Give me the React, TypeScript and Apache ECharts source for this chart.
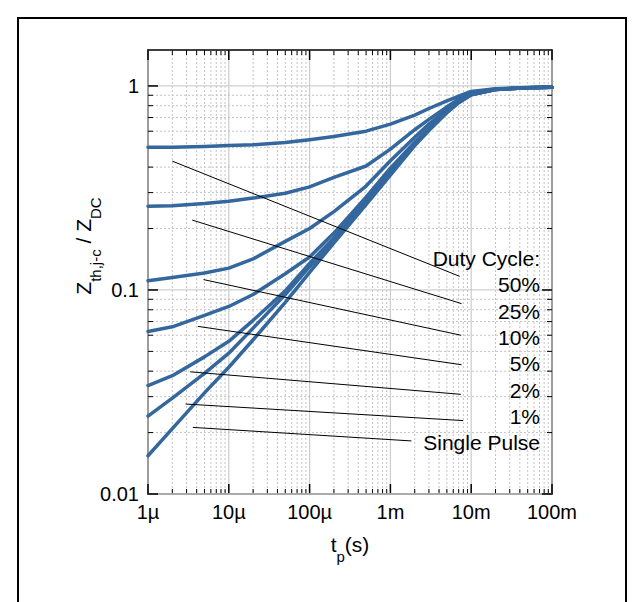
import React, { useEffect, useRef } from 'react';
import * as echarts from 'echarts';

// ---- data ----
const tValues = [1e-6, 2e-6, 5e-6, 1e-5, 2e-5, 5e-5, 1e-4, 2e-4, 5e-4, 1e-3, 2e-3, 3e-3, 5e-3, 7e-3, 1e-2, 2e-2, 5e-2, 1e-1];
const seriesNames = ['50%', '25%', '10%', '5%', '2%', '1%', 'Single Pulse'];
const z50 = [0.5, 0.5, 0.505, 0.51, 0.515, 0.528, 0.545, 0.565, 0.6, 0.65, 0.72, 0.775, 0.845, 0.89, 0.94, 0.97, 0.982, 0.984];
const z25 = [0.257, 0.259, 0.265, 0.272, 0.282, 0.298, 0.32, 0.356, 0.405, 0.49, 0.61, 0.685, 0.79, 0.86, 0.925, 0.965, 0.981, 0.984];
const z10 = [0.111, 0.115, 0.121, 0.128, 0.142, 0.173, 0.2, 0.242, 0.323, 0.43, 0.56, 0.65, 0.765, 0.845, 0.915, 0.962, 0.98, 0.984];
const z05 = [0.0626, 0.066, 0.075, 0.083, 0.095, 0.12, 0.145, 0.19, 0.285, 0.395, 0.53, 0.62, 0.75, 0.835, 0.91, 0.96, 0.98, 0.984];
const z02 = [0.034, 0.038, 0.047, 0.056, 0.071, 0.099, 0.135, 0.18, 0.275, 0.38, 0.52, 0.615, 0.745, 0.832, 0.908, 0.96, 0.98, 0.984];
const z01 = [0.0241, 0.0295, 0.039, 0.049, 0.065, 0.095, 0.13, 0.175, 0.268, 0.372, 0.515, 0.61, 0.742, 0.83, 0.906, 0.96, 0.98, 0.984];
const zSingle = [0.0154, 0.0209, 0.0313, 0.0418, 0.057, 0.087, 0.122, 0.17, 0.262, 0.365, 0.51, 0.605, 0.74, 0.828, 0.905, 0.96, 0.98, 0.984];
const seriesValues = [z50, z25, z10, z05, z02, z01, zSingle];

// annotation leader lines: [t, Z] start and end
const leaderStart = [[2.0e-6, 0.428], [3.53e-6, 0.22], [4.87e-6, 0.1124], [4.14e-6, 0.0663], [3.33e-6, 0.0397], [2.92e-6, 0.0276], [3.59e-6, 0.0212]];
const leaderEnd = [[7.2e-3, 0.1166], [7.6e-3, 0.0857], [7.45e-3, 0.06], [7.6e-3, 0.043], [7.45e-3, 0.0308], [7.96e-3, 0.0229], [1.82e-3, 0.0182]];
const annotationTitle = 'Duty Cycle:';

const xTickValues = [1e-6, 1e-5, 1e-4, 1e-3, 1e-2, 1e-1];
const xTickLabels = ['1µ', '10µ', '100µ', '1m', '10m', '100m'];
const yTickValues = [0.01, 0.1, 1];
const yTickLabels = ['0.01', '0.1', '1'];
const xMin = 1e-6, xMax = 0.1, yMin = 0.01, yMax = 1.5;

const FONT = 'Liberation Sans, Arial, Helvetica, sans-serif';
const BLUE = '#34679e';

function buildMinor(majors: number[], max: number) {
  const out: number[] = [];
  majors.forEach((d) => {
    for (let k = 2; k <= 9; k++) {
      const v = k * d;
      if (v < max) out.push(v);
    }
  });
  return out;
}

function decadeIndex(v: number, base: number) {
  const l = Math.log10(v);
  const r = Math.round(l);
  if (Math.abs(l - r) > 1e-6) return -1;
  return r - base;
}

const nameRich = {
  a: { fontSize: 21, lineHeight: 20, verticalAlign: 'top', fontFamily: FONT, color: '#000' },
  b: { fontSize: 15, lineHeight: 30, verticalAlign: 'bottom', fontFamily: FONT, color: '#000' },
};

export default function App() {
  const ref = useRef<HTMLDivElement>(null);
  useEffect(() => {
    if (!ref.current) return;
    const chart = echarts.init(ref.current, null, { renderer: 'svg' });

    const xMinor = buildMinor(xTickValues, xMax);
    const yMinor = buildMinor(yTickValues, yMax);
    const xGridData = [
      ...xTickValues.map((v) => [v, 0.5, 1]),
      ...xMinor.map((v) => [v, 0.5, 0]),
    ];
    const yGridData = [
      ...yTickValues.map((v) => [1e-3, v, 1]),
      ...yMinor.map((v) => [1e-3, v, 0]),
    ];

    const xGridRender = (params: any, api: any) => {
      const cs = params.coordSys;
      const major = api.value(2) === 1;
      const x = api.coord([api.value(0), api.value(1)])[0];
      const len = major ? 10 : 5;
      const top = cs.y, bot = cs.y + cs.height;
      return {
        type: 'group',
        children: [
          { type: 'line', shape: { x1: x, y1: top, x2: x, y2: bot }, style: { stroke: major ? '#cfcfcf' : '#c4c4c4', lineWidth: major ? 1.3 : 1, lineDash: major ? null : [2, 2] }, silent: true },
          { type: 'line', shape: { x1: x, y1: bot, x2: x, y2: bot - len }, style: { stroke: '#000', lineWidth: major ? 1.5 : 1 }, silent: true },
          { type: 'line', shape: { x1: x, y1: top, x2: x, y2: top + len }, style: { stroke: '#000', lineWidth: major ? 1.5 : 1 }, silent: true },
        ],
      };
    };
    const yGridRender = (params: any, api: any) => {
      const cs = params.coordSys;
      const major = api.value(2) === 1;
      const y = api.coord([api.value(0), api.value(1)])[1];
      const len = major ? 10 : 5;
      const left = cs.x, right = cs.x + cs.width;
      return {
        type: 'group',
        children: [
          { type: 'line', shape: { x1: left, y1: y, x2: right, y2: y }, style: { stroke: major ? '#cfcfcf' : '#c4c4c4', lineWidth: major ? 1.3 : 1, lineDash: major ? null : [2, 2] }, silent: true },
          { type: 'line', shape: { x1: left, y1: y, x2: left + len, y2: y }, style: { stroke: '#000', lineWidth: major ? 1.5 : 1 }, silent: true },
          { type: 'line', shape: { x1: right, y1: y, x2: right - len, y2: y }, style: { stroke: '#000', lineWidth: major ? 1.5 : 1 }, silent: true },
        ],
      };
    };

    const labelYs = [258, 284, 311, 337, 363, 390, 416, 442];
    const labelTexts = [annotationTitle, ...seriesNames];

    const option: any = {
      animation: false,
      backgroundColor: '#ffffff',
      grid: { left: 148, top: 50, right: 90, bottom: 108, containLabel: false },
      xAxis: [
        {
          type: 'log', logBase: 10, min: xMin, max: xMax, position: 'bottom',
          axisLine: { show: true, lineStyle: { color: '#000', width: 1.5 } },
          axisTick: { show: false }, splitLine: { show: false },
          axisLabel: {
            fontSize: 20, color: '#000', fontFamily: FONT, margin: 8,
            formatter: (v: number) => { const i = decadeIndex(v, -6); return i >= 0 && i < xTickLabels.length ? xTickLabels[i] : ''; },
          },
          name: '{a|t}{b|p}{a|(s)}',
          nameLocation: 'middle', nameGap: 40, nameMoveOverlap: false,
          nameTextStyle: { color: '#000', fontFamily: FONT, rich: nameRich },
        },
        {
          type: 'log', logBase: 10, min: xMin, max: xMax, position: 'top',
          axisLine: { show: true, lineStyle: { color: '#000', width: 1.5 } },
          axisTick: { show: false }, splitLine: { show: false }, axisLabel: { show: false },
        },
      ],
      yAxis: [
        {
          type: 'log', logBase: 10, min: yMin, max: yMax, position: 'left',
          axisLine: { show: true, lineStyle: { color: '#000', width: 1.5 } },
          axisTick: { show: false }, splitLine: { show: false },
          axisLabel: {
            fontSize: 20, color: '#000', fontFamily: FONT, margin: 9,
            formatter: (v: number) => { const i = decadeIndex(v, -2); return i >= 0 && i < yTickLabels.length ? yTickLabels[i] : ''; },
          },
          name: '{a|Z}{b|th,j-c}{a| / Z}{b|DC}',
          nameLocation: 'middle', nameRotate: 90, nameGap: 45, nameMoveOverlap: false,
          nameTextStyle: { color: '#000', fontFamily: FONT, rich: nameRich, padding: [0, 0, 0, 52] },
        },
        {
          type: 'log', logBase: 10, min: yMin, max: yMax, position: 'right',
          axisLine: { show: true, lineStyle: { color: '#000', width: 1.5 } },
          axisTick: { show: false }, splitLine: { show: false }, axisLabel: { show: false },
        },
      ],
      series: [
        { type: 'custom', xAxisIndex: 0, yAxisIndex: 0, renderItem: xGridRender, data: xGridData, encode: { x: 0, y: 1 }, z: 1, silent: true, clip: false },
        { type: 'custom', xAxisIndex: 0, yAxisIndex: 0, renderItem: yGridRender, data: yGridData, encode: { x: 0, y: 1 }, z: 1, silent: true, clip: false },
        ...seriesNames.map((name, i) => ({
          type: 'line', name, xAxisIndex: 0, yAxisIndex: 0,
          data: tValues.map((t, j) => [t, seriesValues[i][j]]),
          showSymbol: false, symbol: 'none', smooth: false,
          lineStyle: { color: BLUE, width: 3.5, join: 'round', cap: 'round' }, itemStyle: { color: BLUE }, z: 3,
        })),
        ...seriesNames.map((name, i) => ({
          type: 'line', name: 'leader ' + name, xAxisIndex: 0, yAxisIndex: 0,
          data: [leaderStart[i], leaderEnd[i]],
          showSymbol: false, symbol: 'none',
          lineStyle: { color: '#000', width: 1 }, itemStyle: { color: '#000' }, z: 4,
        })),
      ],
      graphic: [
        { type: 'rect', shape: { x: 18, y: 18, width: 608, height: 600 }, style: { fill: 'none', stroke: '#000', lineWidth: 2 }, silent: true },
        ...labelTexts.map((t, i) => ({
          type: 'text', x: 540, y: labelYs[i],
          style: { text: t, fontSize: 21, fontFamily: FONT, fill: '#000', align: 'right', verticalAlign: 'middle' },
          silent: true, z: 10,
        })),
      ],
    };
    chart.setOption(option);
    return () => chart.dispose();
  }, []);
  return <div ref={ref} style={{ position: 'fixed', left: 0, top: 0, width: 642, height: 602 }} />;
}
